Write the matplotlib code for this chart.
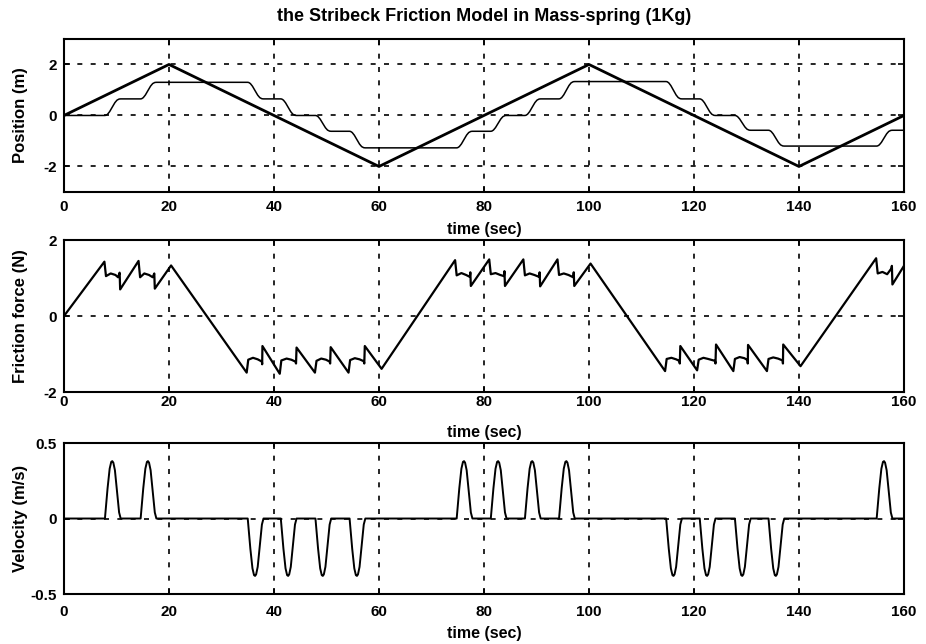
import numpy as np
import matplotlib.pyplot as plt

plt.rcParams['font.family'] = ['Liberation Sans', 'DejaVu Sans']
plt.rcParams['font.weight'] = 'bold'
plt.rcParams['axes.unicode_minus'] = False

# reference input (triangle), metres
ref_t = [0, 20, 60, 100, 140, 160]
ref_x = [0, 2, -2, 2, -2, 0]

# slip events: start time, direction, mass position level after the slip
slip_start = [7.8, 14.6, 35.0, 41.3, 47.9, 54.4, 74.8, 81.3, 87.8, 94.3,
              114.7, 121.1, 127.8, 134.2, 154.8]
slip_sign = [1, 1, -1, -1, -1, -1, 1, 1, 1, 1, -1, -1, -1, -1, 1]
level_after = [0.65, 1.30, 0.65, 0.0, -0.62, -1.27, -0.62, 0.0, 0.65, 1.33,
               0.65, 0.0, -0.58, -1.20, -0.58]

# shape of one velocity pulse and its running position share
pulse_dt = [0, 0.2, 0.5, 0.9, 1.2, 1.4, 1.6, 1.9, 2.3, 2.7, 3.0]
pulse_v = [0, 0.08, 0.2, 0.33, 0.375, 0.38, 0.37, 0.32, 0.18, 0.04, 0]
step_frac = [0, 0.012, 0.075, 0.234, 0.393, 0.506, 0.619, 0.775, 0.925, 0.991, 1.0]

# friction force trace, N
fr_t = [0, 7.7, 8.0, 8.9, 9.8, 10.3, 10.6, 10.7, 14.2, 14.5, 15.3, 16.2, 16.9, 17.2, 17.3, 20.4,
        34.8, 35.1, 36.0, 36.9, 37.7, 37.75, 37.8, 41.1, 41.4, 42.4, 43.3, 44.1, 44.2, 44.3,
        47.8, 48.1, 49.0, 49.9, 50.6, 50.7, 50.8, 54.2, 54.5, 55.4, 56.3, 57.1, 57.2, 57.3, 60.5,
        74.5, 74.8, 75.7, 76.6, 77.3, 77.4, 77.5, 81.0, 81.3, 82.2, 83.1, 83.8, 83.9, 84.0,
        87.5, 87.8, 88.7, 89.6, 90.5, 90.6, 90.7, 94.0, 94.3, 95.2, 96.1, 97.0, 97.1, 97.2, 100.3,
        114.5, 114.8, 115.7, 116.6, 117.2, 117.3, 117.4, 120.6, 120.9, 121.8, 122.7, 124.0, 124.1, 124.2,
        127.5, 127.8, 128.7, 129.6, 130.2, 130.25, 130.3, 133.9, 134.2, 135.1, 136.0, 136.9, 136.95, 137.0,
        140.3, 154.7, 155.0, 155.9, 156.8, 157.6, 157.7, 157.8, 160]
fr_f = [0, 1.43, 1.05, 1.12, 1.08, 1.02, 1.14, 0.70, 1.45, 1.02, 1.12, 1.08, 1.02, 1.12, 0.72, 1.33,
        -1.49, -1.15, -1.10, -1.14, -1.20, -1.27, -0.79, -1.52, -1.17, -1.12, -1.15, -1.20, -1.25, -0.83,
        -1.49, -1.18, -1.12, -1.15, -1.20, -1.25, -0.82, -1.49, -1.16, -1.11, -1.14, -1.19, -1.25, -0.79, -1.39,
        1.47, 1.07, 1.13, 1.08, 1.03, 1.15, 0.79, 1.49, 1.10, 1.13, 1.08, 1.05, 1.18, 0.79,
        1.49, 1.07, 1.12, 1.08, 1.03, 1.15, 0.78, 1.49, 1.08, 1.12, 1.08, 1.02, 1.15, 0.79, 1.38,
        -1.45, -1.13, -1.10, -1.14, -1.18, -1.25, -0.79, -1.43, -1.15, -1.10, -1.13, -1.18, -1.25, -0.75,
        -1.45, -1.13, -1.08, -1.11, -1.16, -1.25, -0.76, -1.45, -1.13, -1.09, -1.12, -1.17, -1.25, -0.75,
        -1.32, 1.52, 1.12, 1.16, 1.10, 1.25, 1.32, 0.83, 1.32]

title_text = 'the Stribeck Friction Model in Mass-spring (1Kg)'

# build mass position and velocity from the slip events
pos_t, pos_x = [0.0], [0.0]
vel_t, vel_v = [0.0], [0.0]
lvl = 0.0
for s, sg, new in zip(slip_start, slip_sign, level_after):
    for dt, fr, v in zip(pulse_dt, step_frac, pulse_v):
        pos_t.append(s + dt)
        pos_x.append(lvl + fr * (new - lvl))
        vel_t.append(s + dt)
        vel_v.append(sg * v)
    lvl = new
pos_t.append(160); pos_x.append(lvl)
vel_t.append(160); vel_v.append(0)

fig = plt.figure(figsize=(9.26, 6.44), dpi=100)
ax1 = fig.add_axes([0.0691, 0.7019, 0.9071, 0.2376])
ax2 = fig.add_axes([0.0691, 0.3913, 0.9071, 0.2360])
ax3 = fig.add_axes([0.0691, 0.0776, 0.9071, 0.2345])

ax1.plot(ref_t, ref_x, color='black', lw=2.0)
ax1.plot(pos_t, pos_x, color='black', lw=1.1)
ax2.plot(fr_t, fr_f, color='black', lw=1.6)
ax3.plot(vel_t, vel_v, color='black', lw=1.4)

ax1.set_ylim(-3, 3)
ax1.set_yticks([-2, 0, 2])
ax2.set_ylim(-2, 2)
ax2.set_yticks([-2, 0, 2])
ax3.set_ylim(-0.5, 0.5)
ax3.set_yticks([-0.5, 0, 0.5])
ax3.set_yticklabels(['-0.5', '0', '0.5'])

ylabels = ['Position (m)', 'Friction force (N)', 'Velocity (m/s)']
xlab_y = [-0.196, -0.217, -0.215]
xpads = [6, 2, 8]
for ax, yl, xy, xp in zip([ax1, ax2, ax3], ylabels, xlab_y, xpads):
    ax.set_xlim(0, 160)
    ax.set_xticks(range(0, 161, 20))
    ax.grid(True, color='black', linestyle=(0, (3, 5)), lw=1.2)
    ax.tick_params(direction='in', length=4, width=1.2, labelsize=11, pad=5,
                   top=True, right=True)
    ax.tick_params(axis='x', pad=xp)
    for lab in ax.get_xticklabels() + ax.get_yticklabels():
        lab.set_fontweight('bold')
    for sp in ax.spines.values():
        sp.set_linewidth(1.5)
    ax.set_xlabel('time (sec)', fontsize=11.5, fontweight='bold')
    ax.xaxis.set_label_coords(0.5, xy)
    ax.set_ylabel(yl, fontsize=12, fontweight='bold')
    ax.yaxis.set_label_coords(-0.043, 0.5)

ax1.set_title(title_text, fontsize=13, fontweight='bold', pad=13)

fig.savefig('out.png', dpi=100)
